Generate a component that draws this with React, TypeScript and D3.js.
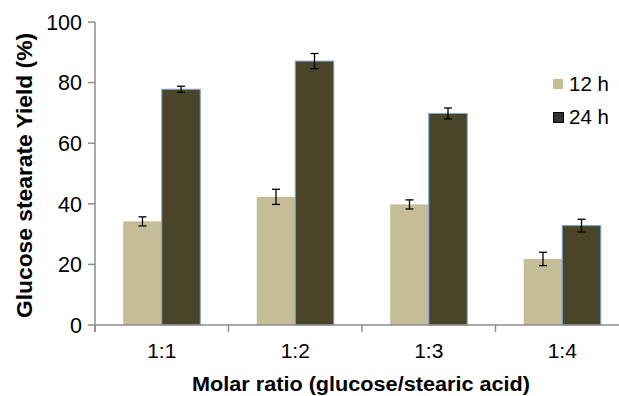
import React from "react";
import * as d3 from "d3";

const categories = ["1:1", "1:2", "1:3", "1:4"];
const seriesNames = ["12 h", "24 h"];
const yield12 = [34.2, 42.3, 39.8, 21.8];
const err12 = [1.5, 2.5, 1.5, 2.2];
const yield24 = [77.8, 87.1, 69.8, 32.8];
const err24 = [1.0, 2.5, 1.8, 2.1];
const yTicks = [0, 20, 40, 60, 80, 100];

const W = 619;
const H = 396;
const FONT = "'Liberation Sans', Arial, sans-serif";
const fills = ["#C4BD97", "#4A4429"];

export default function App() {
  const x0 = d3.scaleBand<string>().domain(categories).range([95, 629]).paddingInner(0.423).paddingOuter(0.2115);
  const x1 = d3.scaleBand<string>().domain(seriesNames).range([0, x0.bandwidth()]).padding(0);
  const y = d3.scaleLinear().domain([0, 100]).range([325, 22]);
  const step = x0.step();
  const boundaries = categories.map((_, i) => 95 + i * step);
  const data = [
    { name: seriesNames[0], vals: yield12, errs: err12 },
    { name: seriesNames[1], vals: yield24, errs: err24 },
  ];
  const axisColor = "#8c8c8c";
  return (
    <svg width={W} height={H} style={{ position: "absolute", left: 0, top: 0, background: "#fff" }} fontFamily={FONT}>
      {data.map((s, si) =>
        categories.map((c, i) => {
          const bx = (x0(c) as number) + (x1(s.name) as number);
          const bw = x1.bandwidth();
          const top = y(s.vals[i]);
          return (
            <rect key={s.name + c} x={bx} y={top} width={bw} height={y(0) - top}
              fill={fills[si]} stroke={si === 1 ? "#7aa6d8" : "none"} strokeWidth={1} />
          );
        })
      )}
      {/* axes */}
      <line x1={95} x2={95} y1={y(100)} y2={332} stroke={axisColor} strokeWidth={1.5} />
      <line x1={95} x2={W} y1={y(0)} y2={y(0)} stroke={axisColor} strokeWidth={1.5} />
      {yTicks.map((t) => (
        <g key={t}>
          <line x1={88} x2={95} y1={y(t)} y2={y(t)} stroke={axisColor} strokeWidth={1.5} />
          <text x={82} y={y(t)} dy="0.36em" textAnchor="end" fontSize={21.5} fill="#000">{t}</text>
        </g>
      ))}
      {boundaries.map((b, i) => (
        <line key={i} x1={b} x2={b} y1={y(0)} y2={332} stroke={axisColor} strokeWidth={1.5} />
      ))}
      {categories.map((c) => (
        <text key={c} x={(x0(c) as number) + x0.bandwidth() / 2} y={358} textAnchor="middle" fontSize={21} fill="#000">{c}</text>
      ))}
      {/* error bars */}
      {data.map((s) =>
        categories.map((c, i) => {
          const cx = (x0(c) as number) + (x1(s.name) as number) + x1.bandwidth() / 2;
          const hi = y(s.vals[i] + s.errs[i]);
          const lo = y(s.vals[i] - s.errs[i]);
          return (
            <g key={"e" + s.name + c} stroke="#000" strokeWidth={1.3}>
              <line x1={cx} x2={cx} y1={hi} y2={lo} />
              <line x1={cx - 4} x2={cx + 4} y1={hi} y2={hi} />
              <line x1={cx - 4} x2={cx + 4} y1={lo} y2={lo} />
            </g>
          );
        })
      )}
      {/* titles */}
      <text x={361} y={391} textAnchor="middle" fontSize={20} fontWeight="bold" fill="#000"
        textLength={338} lengthAdjust="spacingAndGlyphs">
        Molar ratio (glucose/stearic acid)
      </text>
      <text transform={`translate(32,${175.5}) rotate(-90)`} textAnchor="middle" fontSize={22} fontWeight="bold" fill="#000"
        textLength={285} lengthAdjust="spacingAndGlyphs">
        Glucose stearate Yield (%)
      </text>
      {/* legend */}
      <rect x={553} y={79} width={10} height={10} fill={fills[0]} />
      <text x={569} y={91} fontSize={20.5} fill="#000">{seriesNames[0]}</text>
      <rect x={553.5} y={112.5} width={10} height={10} fill="#333" stroke="#000" strokeWidth={1} />
      <text x={569} y={123.5} fontSize={20.5} fill="#000">{seriesNames[1]}</text>
    </svg>
  );
}
